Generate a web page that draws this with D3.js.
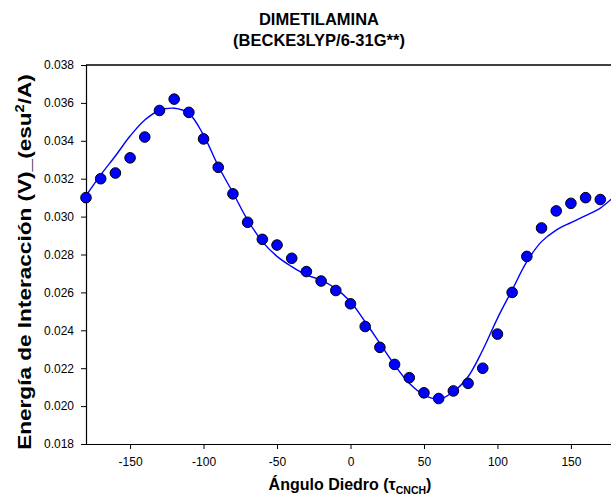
<!DOCTYPE html>
<html>
<head>
<meta charset="utf-8">
<script src="https://cdn.jsdelivr.net/npm/d3@7"></script>
<style>
  html, body { margin: 0; padding: 0; background: #fff; }
  svg { display: block; font-family: "Liberation Sans", Arial, sans-serif; }
</style>
</head>
<body>
<svg id="chart" width="611" height="497"></svg>
<script>
// ---- data ----
const titleLines = ["DIMETILAMINA", "(BECKE3LYP/6-31G**)"];
const angles = [-180,-170,-160,-150,-140,-130,-120,-110,-100,-90,-80,-70,-60,-50,-40,-30,-20,-10,
                0,10,20,30,40,50,60,70,80,90,100,110,120,130,140,150,160,170];
const energy = [0.0310,0.0320,0.0323,0.0331,0.0342,0.0356,0.0362,0.0355,0.0341,0.0326,0.0312,0.0297,
                0.0288,0.0285,0.0278,0.0271,0.0266,0.0261,0.0254,0.0242,0.0231,0.0222,0.0215,0.0207,
                0.0204,0.0208,0.0212,0.0220,0.0238,0.0260,0.0279,0.0294,0.0303,0.0307,0.0310,0.0309];
const fitAngles = [-180,-170,-160,-150,-140,-130,-120,-110,-100,-90,-80,-70,-60,-50,-40,-30,-20,-10,
                   0,10,20,30,40,50,60,70,80,90,100,110,120,130,140,150,160,170,180];
const fitEnergy = [0.0311,0.0322,0.0332,0.03425,0.0351,0.0356,0.03572,0.03545,0.0343,0.03267,0.03126,
                   0.02982,0.02868,0.0279,0.02736,0.02692,0.02665,0.0262,0.02551,0.02445,0.02331,
                   0.02217,0.0212,0.02059,0.02036,0.02076,0.02155,0.02296,0.02463,0.02613,0.02762,
                   0.02868,0.02929,0.02968,0.03005,0.03045,0.0311];
const xTicks = [-150,-100,-50,0,50,100,150];
const xTickLabels = ["-150","-100","-50","0","50","100","150"];
const yTicks = [0.018,0.020,0.022,0.024,0.026,0.028,0.030,0.032,0.034,0.036,0.038];
const yTickLabels = ["0.018","0.020","0.022","0.024","0.026","0.028","0.030","0.032","0.034","0.036","0.038"];

// ---- layout ----
const svg = d3.select("#chart");
const L = 86, R = 615, T = 65, B = 444;
const x = d3.scaleLinear().domain([-180, 180]).range([L, R]);
const y = d3.scaleLinear().domain([0.018, 0.038]).range([B, T]);

// title
svg.append("text")
  .attr("x", 319).attr("y", 25)
  .attr("text-anchor", "middle")
  .attr("font-size", 16.5).attr("font-weight", "bold")
  .text(titleLines[0]);
svg.append("text")
  .attr("x", 319).attr("y", 46)
  .attr("text-anchor", "middle")
  .attr("font-size", 16.5).attr("font-weight", "bold")
  .text(titleLines[1]);

// axes
const yAxis = d3.axisLeft(y).tickValues(yTicks)
  .tickFormat((d, i) => yTickLabels[i]).tickSize(5).tickPadding(7);
const gy = svg.append("g").attr("transform", `translate(${L},0)`).call(yAxis);
gy.select(".domain").attr("stroke", "#000").attr("stroke-width", 1.2)
  .attr("d", `M0.5,${T}V${B}`);
gy.selectAll(".tick line").attr("stroke", "#000");
gy.selectAll(".tick text").attr("font-size", 12).attr("fill", "#000")
  .attr("font-family", "Liberation Sans, Arial, sans-serif");

const xAxis = d3.axisBottom(x).tickValues(xTicks)
  .tickFormat((d, i) => xTickLabels[i]).tickSize(5).tickPadding(8);
const gx = svg.append("g").attr("transform", `translate(0,${B})`).call(xAxis);
gx.select(".domain").attr("stroke", "#000").attr("stroke-width", 1.2)
  .attr("d", `M${L},0.5H${R}`);
gx.selectAll(".tick line").attr("stroke", "#000");
gx.selectAll(".tick text").attr("font-size", 12).attr("fill", "#000")
  .attr("font-family", "Liberation Sans, Arial, sans-serif");

// top frame
svg.append("line")
  .attr("x1", L).attr("x2", R).attr("y1", T).attr("y2", T)
  .attr("stroke", "#000").attr("stroke-width", 1.5);

// fit curve
const fitData = fitAngles.map((a, i) => [a, fitEnergy[i]]);
svg.append("path")
  .datum(fitData)
  .attr("fill", "none")
  .attr("stroke", "#0000ff")
  .attr("stroke-width", 1.4)
  .attr("d", d3.line().x(d => x(d[0])).y(d => y(d[1])).curve(d3.curveCatmullRom.alpha(0.5)));

// points
svg.append("g").selectAll("circle")
  .data(angles.map((a, i) => [a, energy[i]]))
  .join("circle")
  .attr("cx", d => x(d[0]))
  .attr("cy", d => y(d[1]))
  .attr("r", 5.3)
  .attr("fill", "#0000ff")
  .attr("stroke", "#000")
  .attr("stroke-width", 1);

// y label (stretched along its length like the reference)
const yl = svg.append("text")
  .attr("text-anchor", "middle")
  .attr("font-size", 18.5).attr("font-weight", "bold")
  .call(t => {
    t.append("tspan").text("Energía de Interacción (V)_(esu");
    t.append("tspan").attr("font-size", 12).attr("dy", -7).text("2");
    t.append("tspan").attr("dy", 7).text("/A)");
  });
const ylLen = yl.node().getComputedTextLength ? yl.node().getBBox().width : 370;
const sx = 376 / ylLen;
yl.attr("transform", `translate(31,262) rotate(-90) scale(${sx},1)`);

// x label
svg.append("text")
  .attr("x", 350).attr("y", 490)
  .attr("text-anchor", "middle")
  .attr("font-size", 16).attr("font-weight", "bold")
  .call(t => {
    t.append("tspan").text("Ángulo Diedro (τ");
    t.append("tspan").attr("font-size", 10.5).attr("dy", 4).text("CNCH");
    t.append("tspan").attr("dy", -4).text(")");
  });
</script>
</body>
</html>
